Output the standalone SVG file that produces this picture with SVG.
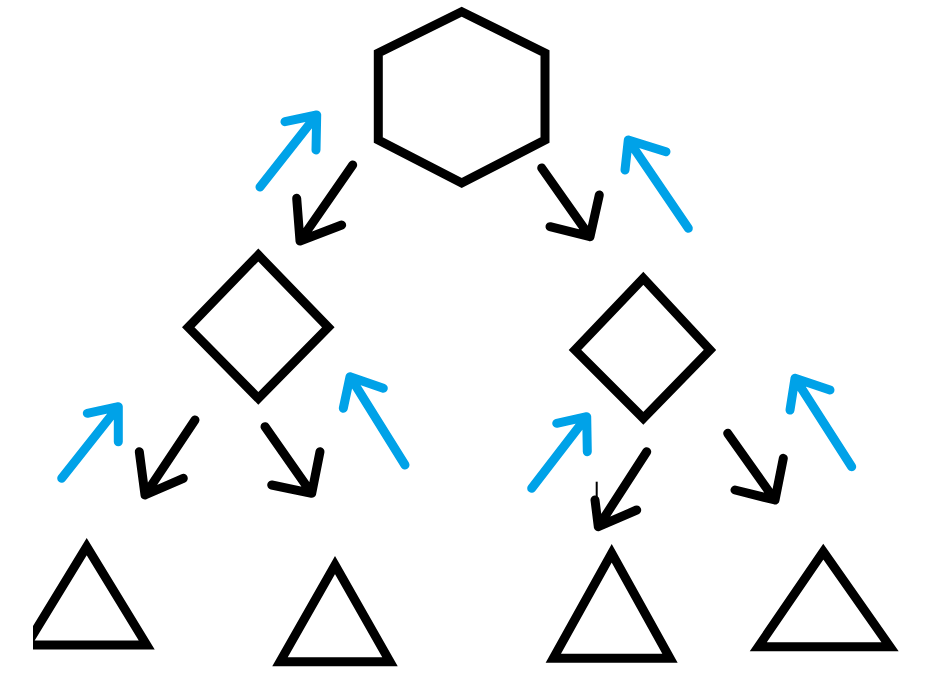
<svg xmlns="http://www.w3.org/2000/svg" width="952" height="680" viewBox="0 0 952 680">
<style>
.shape{fill:none;stroke:#000;stroke-width:9;stroke-linejoin:miter}
.dn{fill:none;stroke:#000;stroke-width:9;stroke-linecap:round;stroke-linejoin:round}
.up{fill:none;stroke:#00a2e8;stroke-width:9;stroke-linecap:round;stroke-linejoin:round}
</style>
<defs>
<clipPath id="cropL"><rect x="33" y="0" width="919" height="680"/></clipPath>
</defs>
<rect width="952" height="680" fill="#fff"/>
<g id="hexagon"><polygon class="shape" points="461.7,11.7 545,53 545,140 461.7,183 378.3,140 378.3,53"/></g>
<g id="diamond-left"><polygon class="shape" points="258.3,255 328.3,327.3 258.3,398.3 188.3,327.3"/></g>
<g id="diamond-right"><polygon class="shape" points="643.3,278.3 710,350 643.3,418.3 575,350"/></g>
<g id="triangle-1" clip-path="url(#cropL)"><polygon class="shape" points="86.7,546.7 146.7,645 26.7,645"/></g>
<g id="triangle-2"><polygon class="shape" points="335,565 390,661.7 280,661.7"/></g>
<g id="triangle-3"><polygon class="shape" points="611.7,553.3 670,658.3 553.3,658.3"/></g>
<g id="triangle-4"><polygon class="shape" points="823.3,551.7 890,646.7 758.3,646.7"/></g>
<g id="connectors">
<path class="up" d="M260,187 L316.7,115 M285,121.7 L316.7,115 L316,150"/>
<path class="dn" d="M352.7,165 L300,241 M296.7,198.3 L300,241 L341.7,225"/>
<path class="dn" d="M541.7,168 L590,236.7 M599.3,195 L590,236.7 L550,226.7"/>
<path class="up" d="M688.3,228.3 L628.3,140 M625,170 L628.3,140 L666,151.7"/>
<path class="up" d="M61.7,478.3 L118.3,406.7 M87.3,413.3 L118.3,406.7 L118.3,441.7"/>
<path class="dn" d="M195,420 L145,495 M139.3,451.7 L145,495 L183.3,478.3"/>
<path class="dn" d="M265,426.7 L311.7,493.3 M320,451.7 L311.7,493.3 L271.7,485"/>
<path class="up" d="M405,465 L350,376.7 M343.3,408.3 L350,376.7 L383.3,388.3"/>
<path class="up" d="M531.7,488.3 L586.7,416.7 M556.7,423.3 L586.7,416.7 L587.3,451.7"/>
<path class="dn" d="M646.7,451.7 L598.3,526.7 M595,500 L598.3,526.7 L636.7,510"/>
<line x1="596.7" y1="481.7" x2="596.7" y2="502" stroke="#000" stroke-width="2"/>
<path class="dn" d="M727.7,433.3 L775,500 M783.3,458.3 L775,500 L735,490"/>
<path class="up" d="M851.7,466.7 L795,378.3 M790,410 L795,378.3 L830,390"/>
</g>
</svg>
